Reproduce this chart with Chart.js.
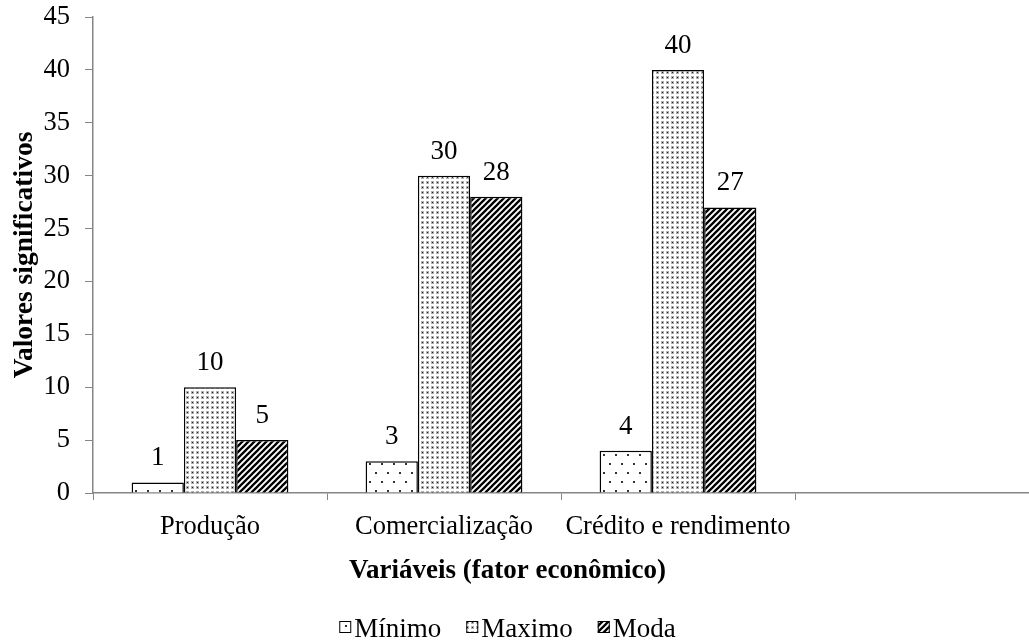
<!DOCTYPE html>
<html>
<head>
<meta charset="utf-8">
<script src="https://cdn.jsdelivr.net/npm/chart.js@4"></script>
<style>
  html, body { margin: 0; padding: 0; background: #fff; }
  #wrap { width: 1029px; height: 640px; }
</style>
</head>
<body>
<div id="wrap"><canvas id="chart"></canvas></div>
<script>
var categories = ['Produção', 'Comercialização', 'Crédito e rendimento', '']
var minimo = [1, 3, 4, null]
var maximo = [10, 30, 40, null]
var moda = [5, 28, 27, null]
var yMax = 45
var yStep = 5
var xTitle = 'Variáveis (fator econômico)'
var yTitle = 'Valores significativos'

var serif = '"Liberation Serif", "Times New Roman", serif'
var axisGrey = '#868686'

function makeTile (w, h, draw) {
  var c = document.createElement('canvas')
  c.width = w
  c.height = h
  var g = c.getContext('2d')
  g.fillStyle = '#fff'
  g.fillRect(0, 0, w, h)
  draw(g)
  return document.createElement('canvas').getContext('2d').createPattern(c, 'repeat')
}

// sparse staggered dots
var sparseDots = makeTile(12, 18, function (g) {
  g.fillStyle = '#333'
  g.fillRect(3, 4, 2, 2)
  g.fillRect(9, 13, 2, 2)
})

// dense dots
var denseDots = makeTile(5, 5, function (g) {
  g.fillStyle = '#b0b0b0'
  g.fillRect(1, 1, 3, 3)
  g.fillStyle = '#222'
  g.fillRect(2, 2, 1, 1)
})

// diagonal stripes
var stripes = makeTile(6, 6, function (g) {
  g.strokeStyle = '#000'
  g.lineWidth = 2.3
  g.beginPath()
  g.moveTo(-1, 7); g.lineTo(7, -1)
  g.moveTo(-4, 4); g.lineTo(4, -4)
  g.moveTo(2, 10); g.lineTo(10, 2)
  g.stroke()
})

var valueLabels = {
  id: 'valueLabels',
  afterDatasetsDraw: function (chart) {
    var ctx = chart.ctx
    ctx.save()
    ctx.font = '27px ' + serif
    ctx.fillStyle = '#000'
    ctx.textAlign = 'center'
    ctx.textBaseline = 'alphabetic'
    chart.data.datasets.forEach(function (ds, i) {
      chart.getDatasetMeta(i).data.forEach(function (bar, j) {
        if (ds.data[j] == null) return
        ctx.fillText(ds.data[j], bar.x, bar.y - 17)
      })
    })
    ctx.restore()
  }
}

// x axis title and legend, drawn below the axis
var bottomTexts = {
  id: 'bottomTexts',
  afterDraw: function (chart) {
    var ctx = chart.ctx
    var mid = chart.width / 2 - 7
    ctx.save()
    ctx.fillStyle = '#000'
    ctx.font = 'bold 27px ' + serif
    ctx.textAlign = 'center'
    ctx.textBaseline = 'middle'
    ctx.fillText(xTitle, mid, 571)

    ctx.font = '27px ' + serif
    ctx.textAlign = 'left'
    ctx.textBaseline = 'alphabetic'
    var box = 12
    var gap = 3
    var itemGap = 25
    var items = chart.data.datasets
    var total = 0
    items.forEach(function (ds, i) {
      total += box + gap + ctx.measureText(ds.label).width
      if (i < items.length - 1) total += itemGap
    })
    var x = mid - total / 2
    items.forEach(function (ds) {
      ctx.fillStyle = ds.backgroundColor
      ctx.fillRect(x, 621, box, box)
      ctx.strokeStyle = '#000'
      ctx.lineWidth = 1
      ctx.strokeRect(x + 0.5, 621.5, box - 1, box - 1)
      ctx.fillStyle = '#000'
      ctx.fillText(ds.label, x + box + gap, 637)
      x += box + gap + ctx.measureText(ds.label).width + itemGap
    })
    ctx.restore()
  }
}

var ctx = document.getElementById('chart').getContext('2d')
new Chart(ctx, {
  type: 'bar',
  data: {
    labels: categories,
    datasets: [
      { label: 'Mínimo', data: minimo, backgroundColor: sparseDots, borderColor: '#000', borderWidth: 1.5 },
      { label: 'Maximo', data: maximo, backgroundColor: denseDots, borderColor: '#000', borderWidth: 1.5 },
      { label: 'Moda', data: moda, backgroundColor: stripes, borderColor: '#000', borderWidth: 1.5 }
    ]
  },
  options: {
    responsive: true,
    maintainAspectRatio: false,
    animation: false,
    events: [],
    categoryPercentage: 0.67,
    barPercentage: 1,
    layout: { padding: { left: 0, right: -11, top: 17, bottom: 0 } },
    plugins: {
      tooltip: { enabled: false },
      legend: { display: false }
    },
    scales: {
      x: {
        grid: { drawOnChartArea: false, color: axisGrey, tickLength: 7, offset: true },
        border: { color: axisGrey, width: 1.5 },
        ticks: { font: { family: serif, size: 26.5 }, color: '#000', padding: 11, maxRotation: 0, autoSkip: false },
        afterFit: function (scale) {
          scale.height = 147
          scale.paddingLeft = 0
          scale.paddingRight = 0
        }
      },
      y: {
        min: 0,
        max: yMax,
        ticks: { stepSize: yStep, font: { family: serif, size: 26.5 }, color: '#000', padding: 15 },
        grid: { drawOnChartArea: false, color: axisGrey, tickLength: 8 },
        border: { color: axisGrey, width: 1.5 },
        title: { display: true, text: yTitle, font: { family: serif, size: 27.5, weight: 'bold' }, color: '#000', padding: { top: 8, bottom: 0 } },
        afterFit: function (scale) {
          scale.width = 93
          scale.paddingTop = 0
          scale.paddingBottom = 0
        }
      }
    }
  },
  plugins: [valueLabels, bottomTexts]
})
</script>
</body>
</html>
